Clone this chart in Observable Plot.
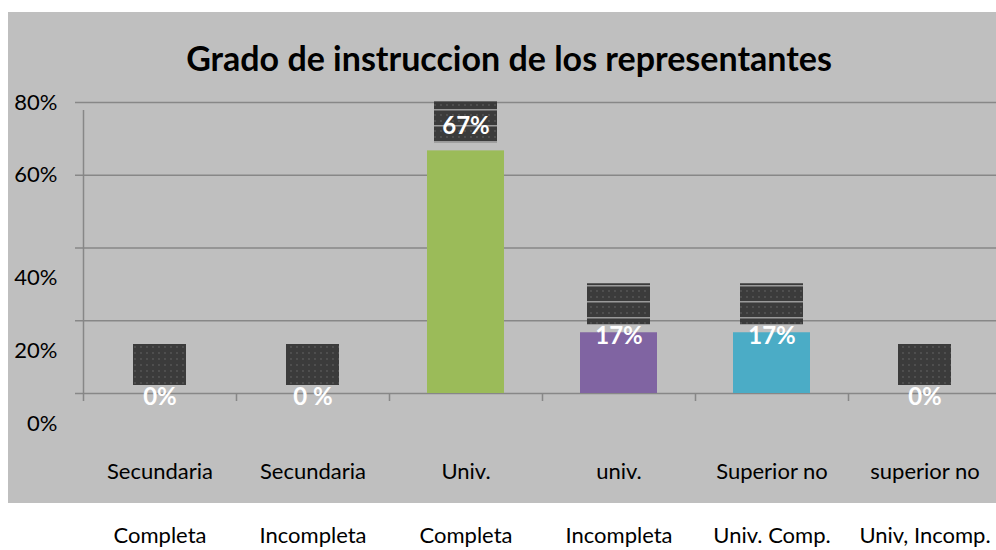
<!DOCTYPE html>
<html><head><meta charset="utf-8">
<script src="https://cdn.jsdelivr.net/npm/d3@7"></script>
<script src="https://cdn.jsdelivr.net/npm/@observablehq/plot@0.6"></script>
<style>
html,body{margin:0;padding:0;background:#fff;overflow:hidden;width:996px;height:550px;}
#panel{position:absolute;left:8px;top:12px;width:1000px;height:491px;background:#bfbfbf;}
#title{position:absolute;left:0;width:1018px;top:38px;text-align:center;font:bold 34px Lato,sans-serif;color:#000;line-height:40px;}
#chart{position:absolute;left:0;top:80px;width:1005px;}
#chart svg{max-width:none !important;}
</style></head><body>
<div id="panel"></div>
<div id="title">Grado de instruccion de los representantes</div>
<div id="chart"></div>
<script>
const categoryLine1 = ["Secundaria", "Secundaria", "Univ.", "univ.", "Superior no", "superior no"];
const categoryLine2 = ["Completa", "Incompleta", "Completa", "Incompleta", "Univ. Comp.", "Univ, Incomp."];
const values = [0, 0, 66.7, 16.7, 16.7, 0];
const valueLabels = ["0%", "0 %", "67%", "17%", "17%", "0%"];
const barColors = ["#4f81bd", "#c0504d", "#9bbb59", "#8064a2", "#4bacc6", "#f79646"];
const yTicks = [0, 20, 40, 60, 80];
const yTickLabels = ["0%", "20%", "40%", "60%", "80%"];

const rows = categoryLine1.map((c, i) => ({
  i, line1: c, line2: categoryLine2[i], value: values[i], label: valueLabels[i], color: barColors[i]
}));
const ticks = yTicks.map((v, k) => ({v, label: yTickLabels[k]}));
const bounds = d3.range(0, categoryLine1.length + 1);

const gridColor = "#878787";
const nonzero = rows.filter(d => d.value > 0);
const zeros = rows.filter(d => d.value === 0);

const svg = Plot.plot({
  width: 1005, height: 470,
  marginLeft: 83, marginRight: 4, marginTop: 22, marginBottom: 157,
  x: {domain: [0, categoryLine1.length], axis: null},
  y: {domain: [0, 80], axis: null},
  color: {type: "identity"},
  style: {background: "transparent", fontFamily: "Lato, sans-serif", overflow: "visible", maxWidth: "none"},
  marks: [
    Plot.ruleY(yTicks, {x1: 0, x2: categoryLine1.length, insetLeft: -8, stroke: gridColor, strokeWidth: 1.5}),
    Plot.ruleX([0], {y1: 0, y2: 80, insetBottom: -8, stroke: gridColor, strokeWidth: 1.5}),
    Plot.ruleX(bounds, {y1: 0, y2: 0, insetBottom: -8, stroke: gridColor, strokeWidth: 1.5}),
    Plot.rect(nonzero, {x1: d => d.i, x2: d => d.i + 1, y1: 0, y2: "value", fill: d => d.color,
      insetLeft: 38, insetRight: 38, ariaLabel: "bar"}),
    Plot.rect(nonzero, {x1: d => d.i, x2: d => d.i + 1, y1: "value", y2: "value",
      insetLeft: 45, insetRight: 45, insetTop: -49, insetBottom: 8, fill: "url(#dotsLines)", ariaLabel: "box"}),
    Plot.rect(zeros, {x1: d => d.i, x2: d => d.i + 1, y1: "value", y2: "value",
      insetLeft: 50, insetRight: 50, insetTop: -49, insetBottom: 8, fill: "url(#dots)", ariaLabel: "box"}),
    Plot.text(nonzero.filter(d => d.value > 50), {x: d => d.i + 0.5, y: "value", text: "label", dy: -25,
      fill: "white", fontWeight: "bold", fontSize: 24}),
    Plot.text(nonzero.filter(d => d.value <= 50), {x: d => d.i + 0.5, y: "value", text: "label", dy: 4,
      fill: "white", fontWeight: "bold", fontSize: 24}),
    Plot.text(zeros, {x: d => d.i + 0.5, y: "value", text: "label", dy: 4,
      fill: "white", fontWeight: "bold", fontSize: 24}),
    Plot.text(ticks.filter(d => d.v >= 60), {x: 0, y: "v", text: "label", textAnchor: "end", dx: -26,
      fontSize: 22, fill: "#000"}),
    Plot.text(ticks.filter(d => d.v < 60), {x: 0, y: "v", text: "label", textAnchor: "end", dx: -26, dy: 30,
      fontSize: 22, fill: "#000"}),
    Plot.text(rows, {x: d => d.i + 0.5, y: 0, text: "line1", dy: 78, fontSize: 22, fill: "#000"}),
    Plot.text(rows, {x: d => d.i + 0.5, y: 0, text: "line2", dy: 142, fontSize: 22, fill: "#000"})
  ]
});
svg.style.maxWidth = "none";

const s = d3.select(svg);
const defs = s.insert("defs", ":first-child");
const p1 = defs.append("pattern").attr("id", "dots").attr("patternUnits", "userSpaceOnUse")
  .attr("width", 6).attr("height", 6);
p1.append("rect").attr("width", 6).attr("height", 6).attr("fill", "#3b3b3b");
p1.append("circle").attr("cx", 3).attr("cy", 3).attr("r", 0.9).attr("fill", "#575757");
const p2 = defs.append("pattern").attr("id", "dotsLines").attr("patternUnits", "userSpaceOnUse")
  .attr("width", 6).attr("height", 16);
p2.append("rect").attr("width", 6).attr("height", 16).attr("fill", "#3b3b3b");
p2.append("circle").attr("cx", 3).attr("cy", 3).attr("r", 0.9).attr("fill", "#575757");
p2.append("circle").attr("cx", 3).attr("cy", 9).attr("r", 0.9).attr("fill", "#575757");
p2.append("rect").attr("y", 13).attr("width", 6).attr("height", 1.5).attr("fill", "#9a9a9a");
const f1 = defs.append("filter").attr("id", "shadow").attr("x", "-30%").attr("y", "-30%").attr("width", "160%").attr("height", "160%");
f1.append("feDropShadow").attr("dx", 3).attr("dy", 3).attr("stdDeviation", 3).attr("flood-color", "#000").attr("flood-opacity", 0.45);
const f2 = defs.append("filter").attr("id", "glow").attr("x", "-30%").attr("y", "-30%").attr("width", "160%").attr("height", "160%");
f2.append("feDropShadow").attr("dx", 0).attr("dy", 0).attr("stdDeviation", 7).attr("flood-color", "#000").attr("flood-opacity", 0.12);
s.selectAll('g[aria-label="box"]').attr("filter", "url(#shadow)");
s.selectAll('g[aria-label="bar"]').attr("filter", "url(#glow)");

document.getElementById("chart").appendChild(svg);
</script>
</body></html>
